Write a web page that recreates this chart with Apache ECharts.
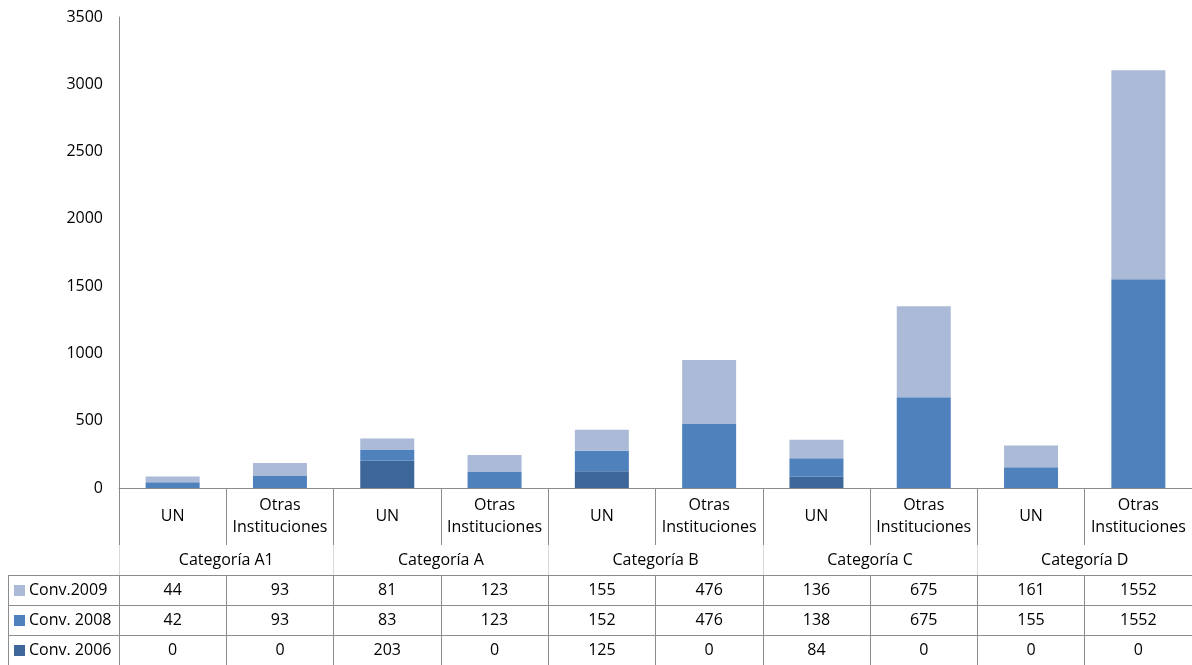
<!DOCTYPE html>
<html><head><meta charset="utf-8">
<script src="https://cdn.jsdelivr.net/npm/echarts@6/dist/echarts.min.js"></script>
<style>html,body{margin:0;padding:0;background:#fff}#c{width:1192px;height:665px}</style>
</head><body><div id="c"></div>
<script>
const subCategories = ['UN','Otras\nInstituciones','UN','Otras\nInstituciones','UN','Otras\nInstituciones','UN','Otras\nInstituciones','UN','Otras\nInstituciones'];
const groups = ['Categoría A1','Categoría A','Categoría B','Categoría C','Categoría D'];
const conv2009 = [44, 93, 81, 123, 155, 476, 136, 675, 161, 1552];
const conv2008 = [42, 93, 83, 123, 152, 476, 138, 675, 155, 1552];
const conv2006 = [0, 0, 203, 0, 125, 0, 84, 0, 0, 0];
const yTicks = {min: 0, max: 3500, interval: 500};

const FONT = 'Open Sans';
const FS = 16;
const lineC = '#8c8c8c';
const chart = echarts.init(document.getElementById('c'));

function rowAxis(values, offset) {
  return {
    type: 'category', gridIndex: 0, position: 'bottom', offset: offset,
    data: values.map(String),
    axisLine: {show: true, lineStyle: {color: lineC, width: 1}},
    axisTick: {show: true, interval: 0, length: 30, lineStyle: {color: lineC}},
    axisLabel: {interval: 0, margin: 15, verticalAlign: 'middle', fontFamily: FONT, fontSize: FS, color: '#000'},
    splitLine: {show: false}
  };
}

chart.setOption({
  animation: false,
  textStyle: {fontFamily: FONT},
  grid: {left: 119, right: 0, top: 17, bottom: 177, containLabel: false},
  legend: {
    orient: 'vertical', left: 14, top: 582, padding: 0,
    itemWidth: 11, itemHeight: 11, itemGap: 13, icon: 'rect',
    data: ['Conv.2009', 'Conv. 2008', 'Conv. 2006'],
    textStyle: {fontFamily: FONT, fontSize: FS, color: '#000', lineHeight: 17, padding: [0, 0, 0, -1]}
  },
  yAxis: {
    type: 'value', min: yTicks.min, max: yTicks.max, interval: yTicks.interval,
    axisLine: {show: true, lineStyle: {color: lineC}},
    axisTick: {show: false},
    splitLine: {show: false},
    axisLabel: {margin: 16, fontFamily: FONT, fontSize: FS, color: '#000', formatter: v => String(v)}
  },
  xAxis: [
    {
      type: 'category', data: subCategories, position: 'bottom',
      axisLine: {show: true, lineStyle: {color: lineC}},
      axisTick: {show: true, interval: 0, length: 57, lineStyle: {color: lineC}},
      axisLabel: {interval: 0, margin: 28, verticalAlign: 'middle', lineHeight: 22, fontFamily: FONT, fontSize: FS, color: '#000'}
    },
    {
      type: 'category', data: groups, position: 'bottom', offset: 57,
      axisLine: {show: false},
      axisTick: {show: true, interval: 0, length: 30, lineStyle: {color: '#d9d9d9'}},
      axisLabel: {interval: 0, margin: 15, verticalAlign: 'middle', fontFamily: FONT, fontSize: FS, color: '#000'}
    },
    rowAxis(conv2009, 87),
    rowAxis(conv2008, 117),
    rowAxis(conv2006, 147)
  ],
  graphic: [
    {type: 'line', shape: {x1: 8, y1: 575.5, x2: 119, y2: 575.5}, style: {stroke: lineC, lineWidth: 1}},
    {type: 'line', shape: {x1: 8, y1: 605.5, x2: 119, y2: 605.5}, style: {stroke: lineC, lineWidth: 1}},
    {type: 'line', shape: {x1: 8, y1: 635.5, x2: 119, y2: 635.5}, style: {stroke: lineC, lineWidth: 1}},
    {type: 'line', shape: {x1: 8.5, y1: 575, x2: 8.5, y2: 665}, style: {stroke: lineC, lineWidth: 1}}
  ],
  series: [
    {name: 'Conv. 2006', type: 'bar', stack: 's', data: conv2006, barWidth: 54, itemStyle: {color: '#3d6699'}},
    {name: 'Conv. 2008', type: 'bar', stack: 's', data: conv2008, barWidth: 54, itemStyle: {color: '#4f81bd'}},
    {name: 'Conv.2009', type: 'bar', stack: 's', data: conv2009, barWidth: 54, itemStyle: {color: '#aabad7'}}
  ]
});
</script></body></html>
